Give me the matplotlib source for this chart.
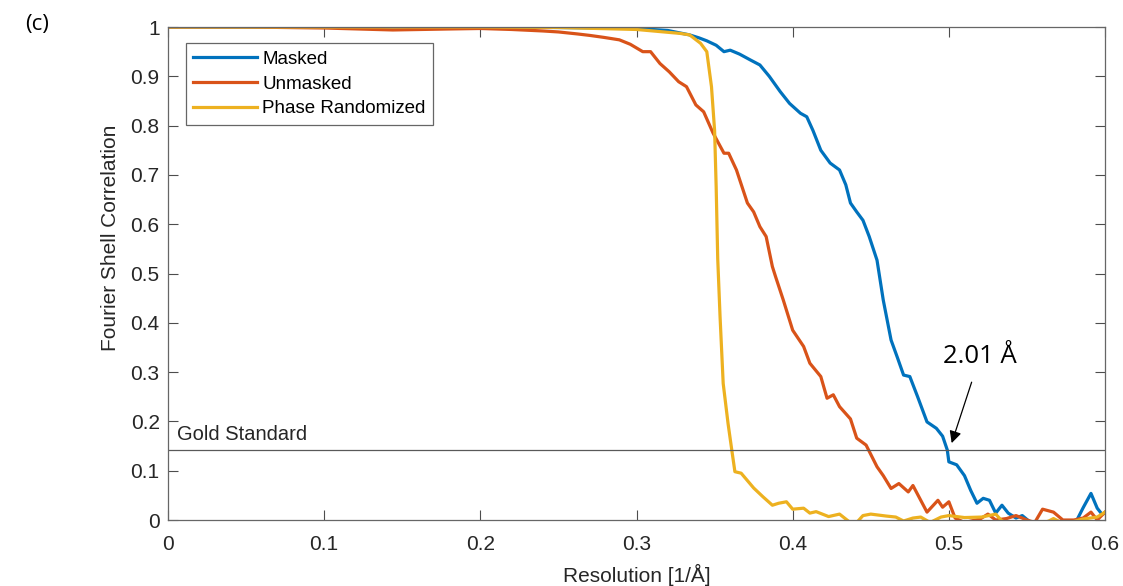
import matplotlib
matplotlib.use("Agg")
import matplotlib.pyplot as plt

plt.rcParams['font.family'] = ['Liberation Sans', 'DejaVu Sans']

# Masked FSC curve
masked_x = [0, 0.05, 0.1, 0.15, 0.2, 0.25, 0.3, 0.32, 0.334, 0.34, 0.345, 0.351, 0.356,
            0.36, 0.366, 0.373, 0.379, 0.385, 0.392, 0.398, 0.405, 0.409, 0.413, 0.418,
            0.424, 0.43, 0.434, 0.437, 0.441, 0.445, 0.449, 0.454, 0.458, 0.463, 0.467,
            0.471, 0.475, 0.48, 0.486, 0.492, 0.496, 0.499, 0.5, 0.505, 0.51, 0.514,
            0.518, 0.522, 0.526, 0.53, 0.534, 0.538, 0.543, 0.547, 0.552, 0.558, 0.565,
            0.572, 0.578, 0.582, 0.586, 0.591, 0.595, 0.598, 0.6]
masked_y = [1, 1, 1, 1, 1, 0.999, 0.997, 0.993, 0.984, 0.978, 0.972, 0.963, 0.95,
            0.953, 0.945, 0.933, 0.923, 0.9, 0.869, 0.845, 0.825, 0.818, 0.79, 0.75,
            0.724, 0.71, 0.68, 0.643, 0.625, 0.608, 0.575, 0.527, 0.446, 0.365, 0.33,
            0.294, 0.291, 0.25, 0.199, 0.186, 0.17, 0.142, 0.118, 0.112, 0.09, 0.06,
            0.034, 0.044, 0.04, 0.014, 0.03, 0.014, 0.004, 0.009, -0.004, -0.01, -0.01,
            -0.01, -0.005, 0.0, 0.025, 0.054, 0.024, 0.012, 0.014]

# Unmasked FSC curve
unmasked_x = [0, 0.05, 0.1, 0.144, 0.18, 0.2, 0.22, 0.24, 0.25, 0.262, 0.27, 0.279,
              0.289, 0.296, 0.304, 0.309, 0.315, 0.321, 0.327, 0.332, 0.338, 0.343,
              0.349, 0.356, 0.359, 0.364, 0.371, 0.375, 0.379, 0.383, 0.387, 0.389,
              0.394, 0.4, 0.407, 0.411, 0.418, 0.422, 0.426, 0.43, 0.437, 0.441, 0.447,
              0.454, 0.458, 0.463, 0.468, 0.474, 0.477, 0.486, 0.493, 0.496, 0.5, 0.504,
              0.51, 0.52, 0.525, 0.53, 0.537, 0.543, 0.55, 0.555, 0.56, 0.567, 0.573,
              0.58, 0.586, 0.591, 0.595, 0.6]
unmasked_y = [1, 1, 0.998, 0.994, 0.996, 0.997, 0.995, 0.992, 0.99, 0.986, 0.983, 0.979,
              0.974, 0.965, 0.95, 0.95, 0.926, 0.909, 0.889, 0.879, 0.842, 0.828,
              0.785, 0.744, 0.744, 0.71, 0.643, 0.625, 0.595, 0.575, 0.514, 0.494,
              0.446, 0.385, 0.352, 0.318, 0.291, 0.247, 0.254, 0.23, 0.205, 0.166, 0.152,
              0.108, 0.09, 0.064, 0.074, 0.057, 0.07, 0.016, 0.04, 0.026, 0.037, 0.004,
              -0.005, 0.002, 0.012, 0.0, 0.003, 0.009, 0.0, -0.005, 0.022, 0.016, 0.0,
              0.0, 0.004, 0.016, 0.0, 0.016]

# Phase randomized FSC curve
phase_x = [0, 0.1, 0.2, 0.25, 0.3, 0.328, 0.334, 0.341, 0.345, 0.348, 0.35, 0.351,
           0.352, 0.3535, 0.3555, 0.3586, 0.361, 0.363, 0.367, 0.371, 0.375, 0.381,
           0.387, 0.391, 0.396, 0.4, 0.407, 0.411, 0.415, 0.423, 0.43, 0.436, 0.441,
           0.445, 0.45, 0.46, 0.466, 0.471, 0.477, 0.482, 0.488, 0.495, 0.5, 0.51,
           0.521, 0.53, 0.534, 0.545, 0.556, 0.564, 0.567, 0.572, 0.58, 0.586, 0.595, 0.6]
phase_y = [1, 1, 1, 0.999, 0.995, 0.987, 0.984, 0.967, 0.95, 0.879, 0.79, 0.676,
           0.53, 0.412, 0.277, 0.196, 0.142, 0.098, 0.095, 0.08, 0.065, 0.047,
           0.03, 0.034, 0.037, 0.022, 0.024, 0.014, 0.017, 0.007, 0.012, -0.003, -0.005,
           0.009, 0.012, 0.008, 0.006, -0.002, 0.004, 0.006, -0.005, 0.006, 0.009, 0.005,
           0.006, 0.012, -0.002, -0.01, -0.01, -0.002, 0.003, -0.005, -0.003, 0.002, 0.006, 0.016]

gold_standard = 0.143
x_ticks = [0, 0.1, 0.2, 0.3, 0.4, 0.5, 0.6]
y_ticks = [0, 0.1, 0.2, 0.3, 0.4, 0.5, 0.6, 0.7, 0.8, 0.9, 1]

fig = plt.figure(figsize=(11.23, 5.86), dpi=100)
ax = fig.add_axes([0.1496, 0.1126, 0.8344, 0.8413])

ax.plot(masked_x, masked_y, color='#0072BD', lw=2.3, label='Masked')
ax.plot(unmasked_x, unmasked_y, color='#D95319', lw=2.3, label='Unmasked')
ax.plot(phase_x, phase_y, color='#EDB120', lw=2.3, label='Phase Randomized')

ax.axhline(gold_standard, color='0.35', lw=0.9)
ax.text(0.0055, gold_standard + 0.019, 'Gold Standard', fontsize=14.5,
        color='#262626', va='baseline')

ax.annotate('2.01 Å', xy=(0.5018, 0.156), xytext=(0.52, 0.332),
            fontsize=18.5, family=['Open Sans', 'DejaVu Sans'], ha='center', va='center',
            arrowprops=dict(arrowstyle='-|>', color='black', lw=0.9,
                            mutation_scale=18, shrinkA=8, shrinkB=0))

ax.set_xlim(0, 0.6)
ax.set_ylim(0, 1)
ax.set_xticks(x_ticks)
ax.set_xticklabels(['0', '0.1', '0.2', '0.3', '0.4', '0.5', '0.6'])
ax.set_yticks(y_ticks)
ax.set_yticklabels(['0', '0.1', '0.2', '0.3', '0.4', '0.5', '0.6', '0.7', '0.8', '0.9', '1'])
ax.tick_params(direction='in', length=7, width=0.8, top=True, right=True,
               labelsize=15, colors='0.3', labelcolor='#262626')
ax.tick_params(axis='y', pad=6)
ax.tick_params(axis='x', pad=11)
for sp in ax.spines.values():
    sp.set_color('0.4')
    sp.set_linewidth(0.9)

ax.set_xlabel('Resolution [1/Å]', fontsize=15, color='#262626', labelpad=7)
ax.set_ylabel('Fourier Shell Correlation', fontsize=15, color='#262626')
ax.yaxis.set_label_coords(-0.051, 0.572)

leg = ax.legend(loc='upper left', bbox_to_anchor=(0.0192, 0.967), borderaxespad=0,
                fontsize=13.5, handlelength=3.4, handletextpad=0.27, borderpad=0.4,
                labelspacing=0.4, fancybox=False, framealpha=1, edgecolor='0.4')
leg.get_frame().set_linewidth(0.9)

fig.text(0.022, 0.958, '(c)', fontsize=16, family=['Open Sans', 'DejaVu Sans'], va='center')

fig.savefig('out.png', dpi=100)
